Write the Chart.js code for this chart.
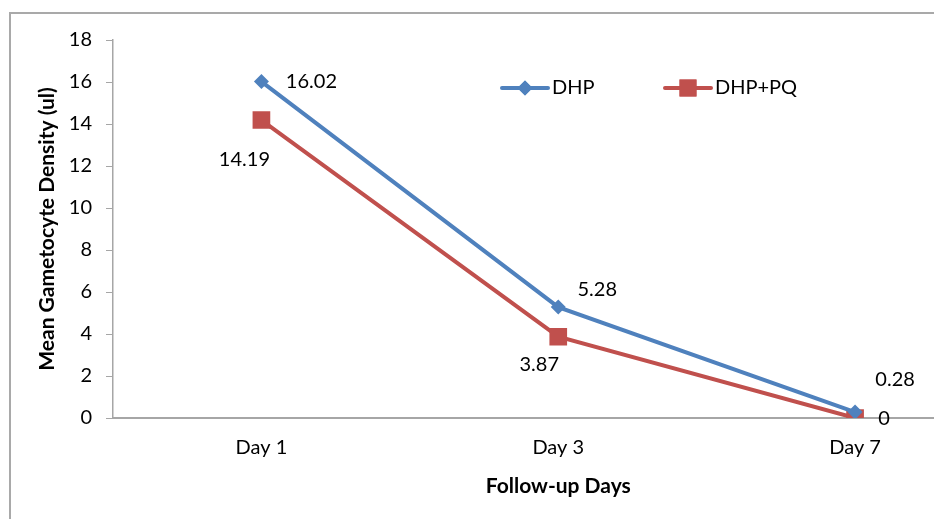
<!DOCTYPE html>
<html>
<head>
<meta charset="utf-8">
<script src="https://cdn.jsdelivr.net/npm/chart.js@4/dist/chart.umd.min.js"></script>
<style>
  html, body { margin: 0; padding: 0; background: #fff; overflow: hidden; width: 934px; height: 519px; }
  #frame { position: absolute; left: 9px; top: 12px; width: 1100px; height: 700px; border: 2px solid #a9a9a9; box-sizing: border-box; }
  #c { position: absolute; left: 0; top: 0; }
</style>
</head>
<body>
<div id="frame"></div>
<canvas id="c" width="1016" height="519"></canvas>
<script>
const categories = ["Day 1", "Day 3", "Day 7"];
const seriesNames = ["DHP", "DHP+PQ"];
const dhpValues = [16.02, 5.28, 0.28];
const dhpPqValues = [14.19, 3.87, 0];
const yTicks = [0, 2, 4, 6, 8, 10, 12, 14, 16, 18];

const BLUE = "#4f81bd";
const RED = "#c0504d";
const FONT = "Lato, 'Liberation Sans', sans-serif";

// label placement offsets (px) relative to each point
const labelOffsets = [
  [[50, 0], [39, -18], [40, -33]],
  [[-17, 40], [-19, 28], [29, 1]]
];

const labelPlugin = {
  id: "labels",
  afterDatasetsDraw(chart) {
    const ctx = chart.ctx;
    ctx.save();
    ctx.font = "20px " + FONT;
    ctx.fillStyle = "#000";
    ctx.textAlign = "center";
    ctx.textBaseline = "middle";
    chart.data.datasets.forEach((ds, i) => {
      const meta = chart.getDatasetMeta(i);
      meta.data.forEach((pt, j) => {
        const off = labelOffsets[i][j];
        ctx.fillText(String(ds.data[j]), pt.x + off[0], pt.y + off[1]);
      });
    });
    ctx.restore();
  }
};

const legendPlugin = {
  id: "customLegend",
  afterDraw(chart) {
    const ctx = chart.ctx;
    const items = [
      { x: 500, color: BLUE, style: "rectRot", r: 7.5 },
      { x: 663, color: RED, style: "rect", r: 12 }
    ];
    const y = 88;
    ctx.save();
    items.forEach((it, i) => {
      ctx.strokeStyle = it.color;
      ctx.lineWidth = 4;
      ctx.lineCap = "round";
      ctx.beginPath();
      ctx.moveTo(it.x + 2, y);
      ctx.lineTo(it.x + 48, y);
      ctx.stroke();
      ctx.fillStyle = it.color;
      Chart.helpers.drawPoint(ctx, { pointStyle: it.style, radius: it.r, borderWidth: 0, rotation: 0 }, it.x + 25, y);
      ctx.fill();
      ctx.fillStyle = "#000";
      ctx.font = "20px " + FONT;
      ctx.textAlign = "left";
      ctx.textBaseline = "middle";
      ctx.fillText(chart.data.datasets[i].label, it.x + 52, y);
    });
    ctx.restore();
  }
};

new Chart(document.getElementById("c"), {
  type: "line",
  data: {
    labels: categories,
    datasets: [
      {
        label: seriesNames[0],
        data: dhpValues,
        borderColor: BLUE,
        backgroundColor: BLUE,
        borderWidth: 4,
        pointStyle: "rectRot",
        pointRadius: 7.5,
        pointHoverRadius: 7.5,
        pointBorderWidth: 0,
        tension: 0
      },
      {
        label: seriesNames[1],
        data: dhpPqValues,
        borderColor: RED,
        backgroundColor: RED,
        borderWidth: 4,
        pointStyle: "rect",
        pointRadius: 12.5,
        pointHoverRadius: 12.5,
        pointBorderWidth: 0,
        tension: 0
      }
    ]
  },
  options: {
    responsive: false,
    devicePixelRatio: 1,
    animation: false,
    layout: { padding: { top: 40, right: 7.5, left: 0, bottom: 0 } },
    plugins: {
      legend: { display: false },
      tooltip: { enabled: false }
    },
    scales: {
      x: {
        type: "category",
        offset: true,
        grid: { display: true, drawOnChartArea: false, drawTicks: false },
        border: { display: true, color: "#a6a6a6", width: 2 },
        ticks: { color: "#000", font: { family: FONT, size: 20 }, padding: 18, maxRotation: 0 },
        title: {
          display: true,
          text: "Follow-up Days",
          color: "#000",
          font: { family: FONT, size: 21, weight: "bold" },
          padding: { bottom: 20 }
        },
        afterFit(scale) { scale.height = 101; }
      },
      y: {
        min: 0,
        max: 18,
        afterBuildTicks(scale) { scale.ticks = yTicks.map(v => ({ value: v })); },
        grid: { display: true, drawOnChartArea: false, drawTicks: true, tickLength: 7, color: "#a6a6a6" },
        border: { display: true, color: "#a6a6a6", width: 1.5 },
        ticks: { color: "#000", font: { family: FONT, size: 20 }, padding: 14 },
        title: {
          display: true,
          text: "Mean Gametocyte Density (ul)",
          color: "#000",
          font: { family: FONT, size: 21, weight: "bold" },
          padding: { top: 35 }
        },
        afterFit(scale) { scale.width = 113; }
      }
    }
  },
  plugins: [labelPlugin, legendPlugin]
});
</script>
</body>
</html>
